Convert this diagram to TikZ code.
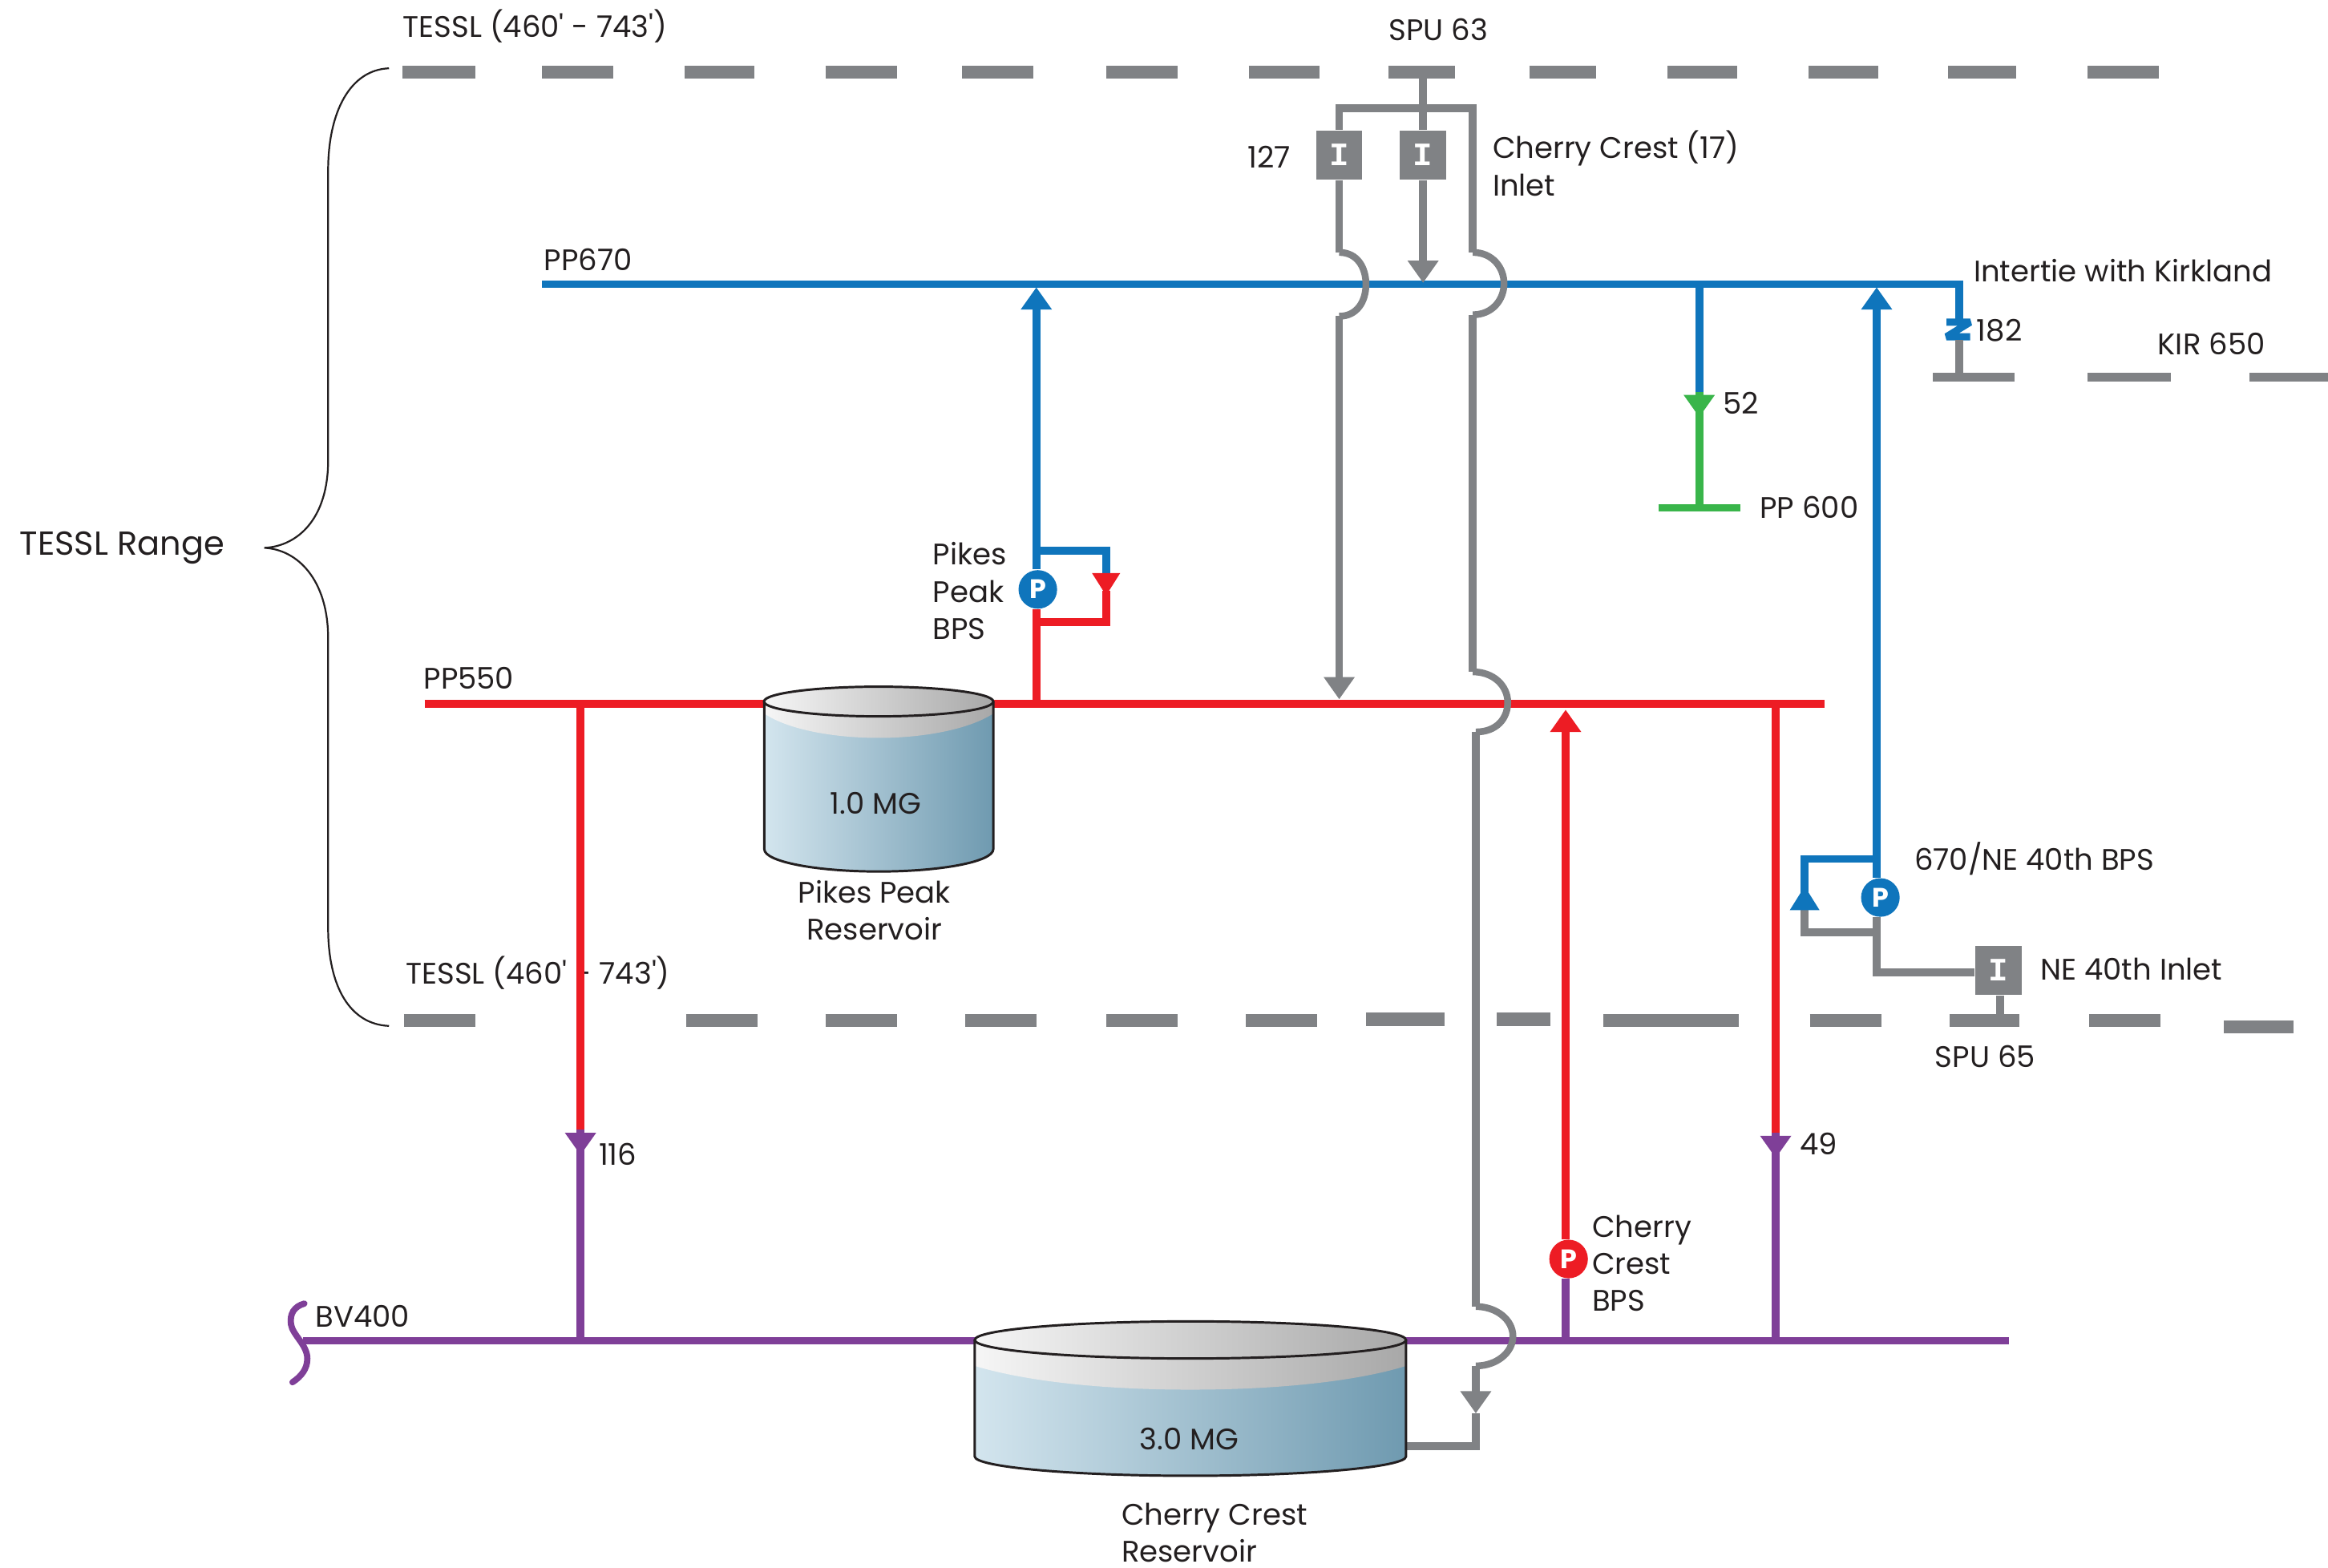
\documentclass[tikz,border=0pt]{standalone}
\usepackage{fontspec}
\setmainfont[Ligatures=TeXOff]{Poppins}
\newfontfamily\valvefont{Liberation Mono}
\usetikzlibrary{arrows.meta}
\definecolor{pblue}{HTML}{0F75BC}
\definecolor{pred}{HTML}{ED1C24}
\definecolor{pgray}{HTML}{808285}
\definecolor{ppurple}{HTML}{7F3F98}
\definecolor{pgreen}{HTML}{39B54A}
\definecolor{ink}{HTML}{231F20}
\definecolor{waterL}{HTML}{D3E5EE}
\definecolor{waterR}{HTML}{6F9AB0}
\definecolor{steelL}{HTML}{F6F6F6}
\definecolor{steelR}{HTML}{A8A8A8}
\tikzset{
  lbl/.style={inner sep=0pt,text=ink,anchor=base west,font=\fontsize{10}{12.5}\selectfont},
  lblm/.style={lbl,anchor=west,align=left},
  lblc/.style={lbl,anchor=center,align=center},
  pipe/.style={line width=2.6pt,line cap=butt,line join=miter},
  hop/.style={line width=2.3pt},
  tip/.style={-{Triangle[width=10pt,length=7.5pt]}},
  bar/.style={pgray,line width=4.4pt},
  barthin/.style={pgray,line width=2.9pt},
  pump/.style={circle,inner sep=0pt,minimum size=13pt,text=white,font=\fontsize{9}{9}\selectfont\bfseries},
  inlet/.style={rectangle,fill=pgray,inner sep=0pt,minimum width=15.5pt,minimum height=16.5pt,text=white,font=\fontsize{11}{11}\selectfont\valvefont\bfseries},
  tankline/.style={draw=ink,line width=.8pt},
}
\begin{document}
\begin{tikzpicture}[x=0.5pt,y=-0.5pt]
\useasboundingbox (0,0) rectangle (1568,1055.6);

% pressure zone boundaries
\foreach \a/\b in {271/320,365/413,461/508,556/604,648/696,745/793,841/889,935/980,1030/1075,1123/1170,1218/1265,1312/1358,1406/1454}
  \draw[bar] (\a,48.5) -- (\b,48.5);
\foreach \a/\b/\c in {272/320/687.5,462/510/687.5,556/604/687.5,650/698/687.5,745/793/687.5,839/887/687.5,920/973/686.5,1008/1044/686.5,1080/1171/687.5,1219/1267/687.5,1313/1360/687.5,1407/1455/687.5,1498/1545/691.5}
  \draw[bar] (\a,\c) -- (\b,\c);
\foreach \a/\b in {1302/1357,1406/1462,1515/1568}
  \draw[barthin] (\a,254) -- (\b,254);

% brace
\coordinate (brT) at (262,46);
\coordinate (brM) at (178,369);
\coordinate (brB) at (262,691);
\draw[ink,line width=.6pt] (brT) .. controls (236,47) and (221,75) .. (221,115) -- (221,310)
  .. controls (221,350) and (200,368) .. (brM) .. controls (200,370) and (221,390) .. (221,430)
  -- (221,625) .. controls (221,665) and (236,690) .. (brB);

% labels
\node[lbl] (t1) at (271,25) {TESSL (460' - 743')};
\node[lbl] (t2) at (273,663) {TESSL (460' - 743')};
\node[lbl,font=\fontsize{11.2}{14}\selectfont] (range) at (13,374) {TESSL Range};
\node[lbl] (spu63) at (935,27) {SPU 63};
\node[lbl] (n127) at (840,113) {127};
\node[lblm] (cc17) at (1005,110) {Cherry Crest (17)\\Inlet};
\node[lbl] (pp670) at (366,182) {PP670};
\node[lbl] (inter) at (1329,190) {Intertie with Kirkland};
\node[lbl] (n182) at (1331,230) {182};
\node[lbl] (kir) at (1453,239) {KIR 650};
\node[lbl] (n52) at (1160,279) {52};
\node[lbl] (pp600) at (1185,349) {PP 600};
\node[lblm] (pikesb) at (628,398) {Pikes\\Peak\\BPS};
\node[lbl] (pp550) at (285,464) {PP550};
\node[lblc] (pikesr) at (589,613) {Pikes Peak\\Reservoir};
\node[lbl] (ne670) at (1289,586) {670/NE 40th BPS};
\node[lbl] (ne40) at (1374,660) {NE 40th Inlet};
\node[lbl] (spu65) at (1303,719) {SPU 65};
\node[lbl] (n116) at (403,785) {116};
\node[lbl] (n49) at (1212,778) {49};
\node[lblm] (ccb) at (1072,851) {Cherry\\Crest\\BPS};
\node[lbl] (bv) at (212,894) {BV400};
\node[lblm] (ccr) at (755,1032.5) {Cherry Crest\\Reservoir};

% devices
\node[inlet] (i127) at (902,104.5) {I};
\node[inlet] (i17) at (958.5,104.5) {I};
\node[inlet] (i40) at (1346,653.5) {I};

% named points
\coordinate (b670L) at (365,191.5);
\coordinate (b670R) at (1319.5,191.5);
\coordinate (r550L) at (286,474);
\coordinate (r550R) at (1229,474);
\coordinate (p400L) at (204,903);
\coordinate (p400R) at (1353,903);

% PP670
\coordinate (kV) at (1319.5,217);
\coordinate (kG) at (1319.5,229);
\coordinate (kB) at (1319.5,253);
\draw[pblue,pipe] (b670L) -- (b670R) -- (kV);
\coordinate (z1) at (1311,217);
\coordinate (z2) at (1327,217);
\coordinate (z3) at (1311,226.8);
\coordinate (z4) at (1327,226.8);
\draw[pblue,line width=2.4pt,line join=bevel] (z1) -- (z2) -- (z3) -- (z4);
\draw[pgray,pipe] (kG) -- (kB);

% PP600 drop
\coordinate (g1) at (1144.5,191.5);
\coordinate (g2) at (1144.5,264);
\coordinate (g3) at (1144.5,281);
\coordinate (g3a) at (1144.5,272);
\coordinate (g4) at (1144.5,342);
\coordinate (g5) at (1117,342);
\coordinate (g6) at (1172,342);
\draw[pblue,pipe] (g1) -- (g2);
\draw[pgreen,pipe] (g3a) -- (g4);
\draw[pgreen,pipe,tip] (g2) -- (g3);
\draw[pgreen,pipe] (g5) -- (g6);

% PP550 and drops
\draw[pred,pipe] (r550L) -- (r550R);
\coordinate (r1) at (391,474);
\coordinate (r1a) at (391,761);
\coordinate (r1b) at (391,778);
\coordinate (r1d) at (391,768);
\coordinate (r1c) at (391,903);
\draw[pred,pipe] (r1) -- (r1a);
\draw[ppurple,pipe] (r1d) -- (r1c);
\draw[ppurple,pipe,tip] (r1a) -- (r1b);
\coordinate (r2) at (1196,474);
\coordinate (r2a) at (1196,763);
\coordinate (r2b) at (1196,780);
\coordinate (r2d) at (1196,770);
\coordinate (r2c) at (1196,903);
\draw[pred,pipe] (r2) -- (r2a);
\draw[ppurple,pipe] (r2d) -- (r2c);
\draw[ppurple,pipe,tip] (r2a) -- (r2b);

% BV400
\draw[ppurple,pipe] (p400L) -- (p400R);
\coordinate (sqT) at (205,878);
\coordinate (sqB) at (197,931);
\draw[ppurple,line width=2.1pt,line cap=round] (sqT) .. controls (198,880) and (195,885) .. (196,892)
  .. controls (197,899) and (207,906) .. (207,915) .. controls (207,922) and (203,927) .. (sqB);

% Cherry Crest BPS
\node[pump,fill=pred] (pc) at (1056.5,848) {P};
\coordinate (cc1) at (1054.5,903);
\coordinate (cc2) at (1054.5,478);
\draw[ppurple,pipe] (cc1) -- (pc.south -| cc1);
\draw[pred,pipe,tip] (pc.north -| cc1) -- (cc2);

% Pikes Peak BPS
\node[pump,fill=pblue] (pk) at (699,397) {P};
\coordinate (pa) at (698,474);
\coordinate (pb) at (698,419);
\coordinate (pc1) at (745,419);
\coordinate (pd) at (745,386);
\coordinate (pe) at (745,398);
\coordinate (pf) at (745,371);
\coordinate (pg) at (698,371);
\coordinate (ph) at (698,193.5);
\draw[pblue,pipe] (pg) -- (pf) -- (pd);
\draw[pred,pipe] (pk.south -| pa) -- (pa);
\draw[pred,pipe] (pb) -- (pc1) -- (pe);
\coordinate (t1a) at (735.5,386);
\coordinate (t1b) at (754.5,386);
\coordinate (t1c) at (745,401);
\fill[pred] (t1a) -- (t1b) -- (t1c) -- cycle;
\draw[pblue,pipe,tip] (pk.north -| pg) -- (ph);

% 670/NE 40th BPS
\node[pump,fill=pblue] (pn) at (1266.5,604.5) {P};
\coordinate (na) at (1264,193.5);
\coordinate (nb) at (1264,578.5);
\coordinate (nc) at (1215.5,578.5);
\coordinate (nd) at (1215.5,597);
\coordinate (ne) at (1215.5,613);
\coordinate (nf) at (1215.5,628);
\coordinate (ng) at (1264,628);
\coordinate (nh) at (1264,655);
\coordinate (ni) at (1347,683);
\draw[pblue,pipe,tip] (pn.north -| na) -- (na);
\draw[pgray,pipe] (ne) -- (nf) -- (ng);
\draw[pgray,pipe] (pn.south -| nh) -- (nh) -- (i40.west |- nh);
\draw[pgray,pipe] (i40.south -| ni) -- (ni);
\draw[pblue,pipe] (nb) -- (nc) -- (ne);
\coordinate (t2a) at (1205.5,613);
\coordinate (t2b) at (1225.5,613);
\fill[pblue] (t2a) -- (t2b) -- (nd) -- cycle;

% SPU 63 header
\coordinate (h0) at (958.5,52);
\coordinate (hT) at (958.5,190.5);
\coordinate (hL) at (902,73);
\coordinate (hR) at (992,73);
\coordinate (lA) at (902,170);
\coordinate (lB) at (902,213);
\coordinate (lT) at (902,471);
\coordinate (rA) at (992,170);
\coordinate (rB) at (992,212);
\coordinate (rC) at (992,452.5);
\coordinate (rD) at (994,493);
\coordinate (rE) at (994,880);
\coordinate (rF) at (994,920);
\coordinate (rG) at (994,952);
\coordinate (rH) at (994,974);
\coordinate (tk2R) at (947,974);
\draw[pgray,pipe] (h0) -- (i17.north);
\draw[pgray,pipe,tip] (i17.south) -- (hT);
\draw[pgray,pipe] (i127.north) -- (hL) -- (hR) -- (rA);
\draw[pgray,pipe] (i127.south) -- (lA);
\draw[pgray,hop] (lA) .. controls (914,170) and (920,180) .. (920,191.5) .. controls (920,203) and (914,213) .. (lB);
\draw[pgray,pipe,tip] (lB) -- (lT);
\draw[pgray,hop] (rA) .. controls (1005,170) and (1013,180) .. (1013,191) .. controls (1013,202) and (1005,212) .. (rB);
\draw[pgray,pipe] (rB) -- (rC);
\draw[pgray,hop] (rC) .. controls (1006,452.5) and (1015.5,462) .. (1015.5,473) .. controls (1015.5,484) and (1008,493) .. (rD);
\draw[pgray,pipe] (rD) -- (rE);
\draw[pgray,hop] (rE) .. controls (1008,880) and (1019,889) .. (1019,900) .. controls (1019,911) and (1008,920) .. (rF);
\draw[pgray,pipe] (tk2R) -- (rH) -- (rG);
\draw[pgray,pipe,tip] (rF) -- (rG);

% Pikes Peak reservoir
\shade[left color=waterL,right color=waterR]
  (514.8,472.5) -- (514.8,572) .. controls (514.8,580.3) and (549.3,587) .. (591.8,587)
  .. controls (634.3,587) and (669,580.3) .. (669,572) -- (669,472.5) -- cycle;
\shade[left color=steelL,right color=steelR]
  (514.8,472.5) -- (514.8,480.6) .. controls (530,491) and (560,497) .. (591.8,497)
  .. controls (623,497) and (653,491) .. (669,480.6) -- (669,472.5) -- cycle;
\draw[tankline] (514.8,472.5) -- (514.8,572) .. controls (514.8,580.3) and (549.3,587) .. (591.8,587)
  .. controls (634.3,587) and (669,580.3) .. (669,572) -- (669,472.5);
\shade[left color=steelL,right color=steelR,draw=none] (591.8,472.5) ellipse [x radius=38.6pt,y radius=5pt];
\draw[tankline] (591.8,472.5) ellipse [x radius=38.6pt,y radius=5pt];
\node[lblc] (vol1) at (590,541) {1.0 MG};

% Cherry Crest reservoir
\shade[left color=waterL,right color=waterR]
  (656.5,902.5) -- (656.5,981) .. controls (656.5,988) and (721,994) .. (801.75,994)
  .. controls (882,994) and (947,988) .. (947,981) -- (947,902.5) -- cycle;
\shade[left color=steelL,right color=steelR]
  (656.5,902.5) -- (656.5,920) .. controls (690,930) and (740,936) .. (801.75,936)
  .. controls (863,936) and (915,930) .. (947,920) -- (947,902.5) -- cycle;
\draw[tankline] (656.5,902.5) -- (656.5,981) .. controls (656.5,988) and (721,994) .. (801.75,994)
  .. controls (882,994) and (947,988) .. (947,981) -- (947,902.5);
\shade[left color=steelL,right color=steelR] (801.75,902.5) ellipse [x radius=72.6pt,y radius=6.25pt];
\draw[tankline] (801.75,902.5) ellipse [x radius=72.6pt,y radius=6.25pt];
\node[lblc] (vol2) at (801,969) {3.0 MG};
\end{tikzpicture}
\end{document}
